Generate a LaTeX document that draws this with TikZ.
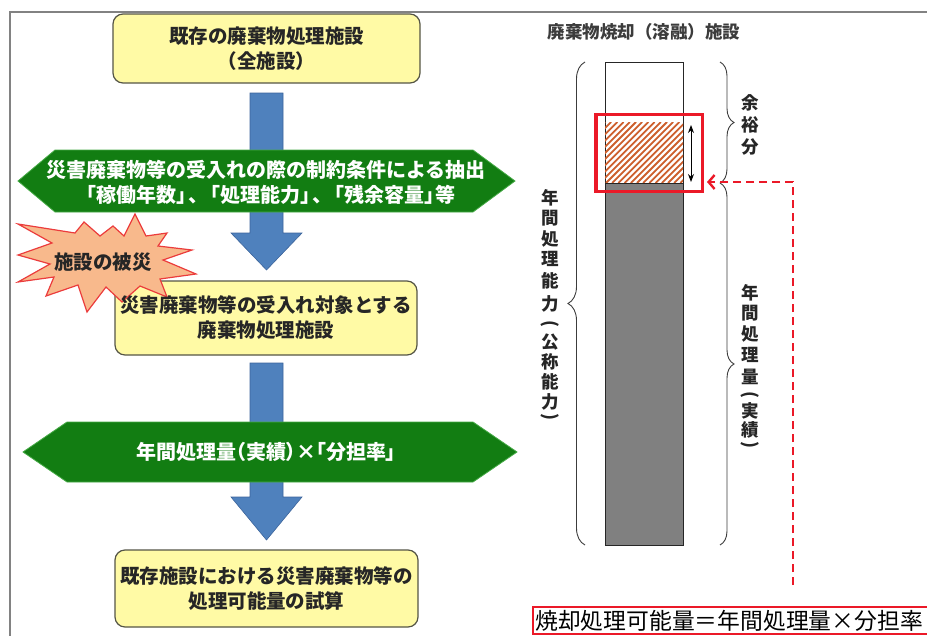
\documentclass[tikz,border=0pt]{standalone}
\usepackage{fontspec}
\setmainfont{Noto Sans CJK JP}
\newfontfamily\dgpalt[RawFeature=+palt]{Noto Sans CJK JP}
\usetikzlibrary{arrows.meta,decorations.pathreplacing}
\definecolor{boxyellow}{RGB}{255,250,165}
\definecolor{boxborder}{RGB}{85,85,70}
\definecolor{hexgreen}{RGB}{18,125,18}
\definecolor{hexedge}{RGB}{70,170,70}
\definecolor{arrowblue}{RGB}{79,129,189}
\definecolor{arrowedge}{RGB}{60,100,155}
\definecolor{starfill}{RGB}{248,185,140}
\definecolor{starline}{RGB}{235,60,60}
\definecolor{bargray}{RGB}{128,128,128}
\definecolor{hatchc}{RGB}{205,95,45}
\definecolor{framegray}{RGB}{130,130,130}
\definecolor{textdark}{RGB}{38,38,38}
\definecolor{redline}{RGB}{235,25,40}
\newcommand\dgbox{\fontsize{19.5}{25}\selectfont\bfseries}
\newcommand\dghex{\fontsize{20}{25}\selectfont\bfseries}
\newcommand\dgvert{\fontsize{17.5}{17.5}\selectfont\bfseries}
\begin{document}
\begin{tikzpicture}[x=1pt,y=-1pt,
  ybox/.style={draw=boxborder, line width=1.2pt, fill=boxyellow, rounded corners=10pt,
    align=center, text=textdark, font=\dgbox, inner sep=0pt},
  btext/.style={align=center, text=textdark, font=\dgbox, inner sep=0pt},
  hexshape/.style={fill=hexgreen, draw=hexedge, line width=0.8pt},
  hextext/.style={text=white, align=center, font=\dghex, inner sep=0pt},
  blockarrow/.style={fill=arrowblue, draw=arrowedge, line width=0.6pt},
  vt/.style={font=\dgvert, text=textdark, inner sep=0pt},
  vparen/.style={vt, rotate=-90},
  bracestyle/.style={draw=textdark!90, line width=0.9pt, decorate},
]
\useasboundingbox (0,0) rectangle (927,635);

% frame
\draw[framegray, line width=1.5pt] (10,640) -- (10,12) -- (930,12);

% block arrows (behind hexagons)
\draw[blockarrow] (250,93) -- (283,93) -- (283,233) -- (302,233) -- (266.5,270) -- (231,233) -- (250,233) -- cycle;
\draw[blockarrow] (250,363) -- (283,363) -- (283,497) -- (302,497) -- (266.5,540) -- (231,497) -- (250,497) -- cycle;

% top box
\node[ybox, minimum width=307pt, minimum height=69pt] (b1) at (266.5,48.5)
  {既存の廃棄物処理施設\\（全施設）};

% hexagon 1
\draw[hexshape] (18,181) -- (55,150) -- (473,150) -- (515,181) -- (473,212) -- (55,212) -- cycle;
\node[hextext] (h1) at (266,182)
  {災害廃棄物等の受入れの際の制約条件による抽出\\
   「稼働年数」\kern-8pt、\kern-8pt「処理能力」\kern-8pt、\kern-8pt「残余容量」\kern-9pt 等};

% box 2
\node[ybox, minimum width=302pt, minimum height=74pt] (b2) at (266,318) {};

% starburst
\draw[fill=starfill, draw=starline, line width=1.2pt, line join=miter]
  (135,214) -- (146,236) -- (167,233) -- (158,246) -- (192,250) -- (163,260) --
  (196,274) -- (160,279) -- (167,297) -- (140,286) -- (122,302) -- (106,287) --
  (87,312) -- (78,285) -- (46,296) -- (54,277) -- (18,282) -- (50,264) --
  (18,255) -- (52,243) -- (18,224) -- (75,233) -- (84,222) -- (100,236) --
  (113,226) -- (124,236) -- cycle;
\node[btext] (star) at (103,262) {施設の被災};

\node[btext] (b2t) at (b2.center) {災害廃棄物等の受入れ対象とする\\廃棄物処理施設};

% hexagon 2
\draw[hexshape] (23,452) -- (67,422) -- (473,422) -- (517,452) -- (473,482) -- (67,482) -- cycle;
\node[hextext] (h2) at (266,452) {\dgpalt 年間処理量（実績）×「分担率」};

% box 3
\node[ybox, minimum width=303pt, minimum height=77pt] (b3) at (266.5,588.5)
  {既存施設における災害廃棄物等の\\処理可能量の試算};

% ---------------- right side ----------------
\node[font=\fontsize{17.5}{20}\selectfont\bfseries, text=textdark!90, inner sep=0pt] (title) at (644,32)
  {廃棄物焼却（溶融）施設};

% bar
\draw[fill=white, draw=textdark, line width=0.9pt] (605,62) rectangle (683,183);
\begin{scope}
  \clip (605,122) rectangle (683,183);
  \foreach \k in {0,...,24}
    \draw[hatchc, line width=1.8pt] (544+\k*6.2,183) -- ++(61,-61);
\end{scope}
\draw[fill=bargray, draw=textdark, line width=0.9pt] (605,183) rectangle (683,545);

% double arrow
\coordinate (da1) at (691,125);
\coordinate (da2) at (691,182);
\draw[{Stealth[length=8pt,width=6pt]}-{Stealth[length=8pt,width=6pt]}, line width=0.9pt] (da1) -- (da2);

% red box
\node[draw=redline, line width=3.5pt, minimum width=106.5pt, minimum height=77pt, inner sep=0pt] (redbox) at (649,153) {};

% braces
\draw[bracestyle, decoration={brace, amplitude=17pt}] (585,545) -- (585,62);
\draw[bracestyle, decoration={brace, amplitude=14pt}] (720,62) -- (720,183);
\draw[bracestyle, decoration={brace, amplitude=14pt}] (720,183) -- (720,545);

% vertical texts
\foreach \c/\y [count=\i] in {年/198, 間/218, 処/239, 理/259, 能/281, 力/304,
    公/342, 称/362, 能/382, 力/402}
  \node[vt] (vl\i) at (550,\y) {\c};
\node[vparen] (vlp1) at (550,324) {(};
\node[vparen] (vlp2) at (550,417) {)};
\foreach \c/\y [count=\i] in {余/103, 裕/125, 分/147}
  \node[vt] (vr\i) at (750,\y) {\c};
\foreach \c/\y [count=\i] in {年/293, 間/313, 処/334, 理/355, 量/377,
    実/411, 績/430}
  \node[vt] (vs\i) at (750,\y) {\c};
\node[vparen] (vsp1) at (750,395) {(};
\node[vparen] (vsp2) at (750,445) {)};

% red dashed connector
\coordinate (dstart) at (793,585);
\coordinate (dend) at (707,182);
\draw[redline, line width=2.4pt, dash pattern=on 8pt off 5pt,
  -{Straight Barb[length=6pt,width=14pt]}] (dstart) |- (dend);

% formula box (its right side runs off the picture, as in the reference)
\draw[redline, line width=1.5pt] (940,607) -- (533,607) -- (533,634) -- (940,634);
\node[anchor=west, inner sep=0pt, font=\fontsize{22.8}{26}\selectfont, text=black] (formula) at (535,621)
  {焼却処理可能量＝年間処理量×分担率};
\end{tikzpicture}
\end{document}
